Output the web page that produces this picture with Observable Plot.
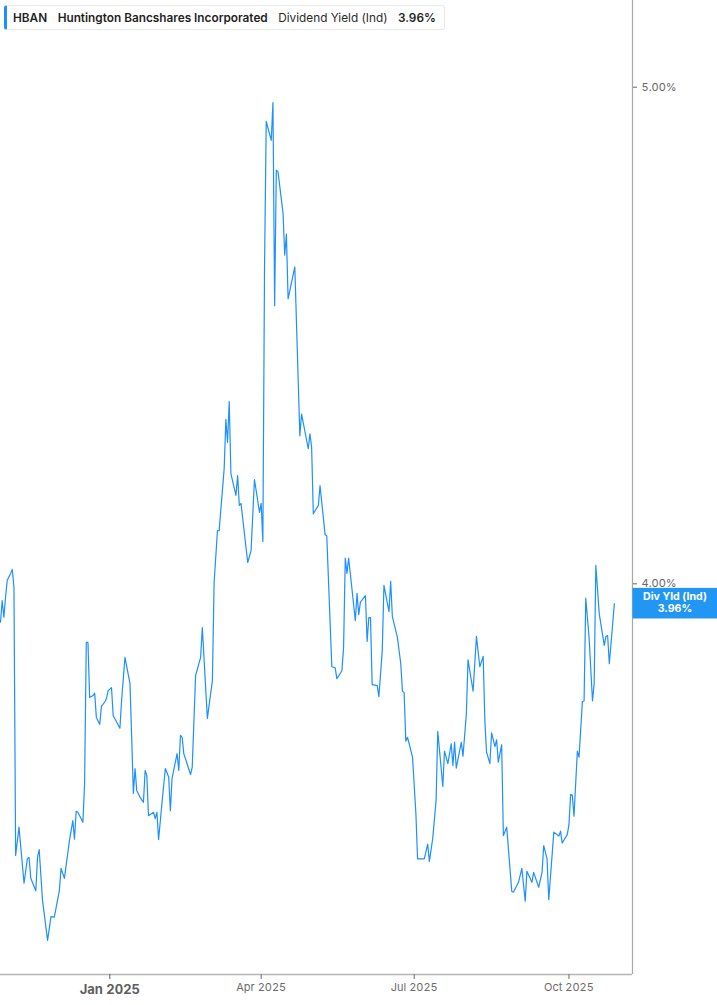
<!DOCTYPE html>
<html><head><meta charset="utf-8">
<script src="https://cdn.jsdelivr.net/npm/d3@7"></script>
<script src="https://cdn.jsdelivr.net/npm/@observablehq/plot@0.6"></script>
<style>
body{margin:0;background:#fff;font-family:Inter,"Noto Sans",sans-serif;}
#wrap{position:relative;width:717px;height:1005px;overflow:hidden;}
#hdr{position:absolute;left:4px;top:5px;height:25px;width:441px;box-sizing:border-box;border:1px solid #e8e8e8;border-left:3px solid #1e8fff;border-radius:3px;background:#fff;display:flex;align-items:center;font-size:11.8px;font-weight:600;color:#1f1f1f;padding-left:6px;white-space:nowrap;z-index:2}
#hdr span{margin-right:10.5px}
#hdr .n{font-weight:400;color:#2a2a2a}
</style></head>
<body><div id="wrap"><div id="hdr"><span id="sym"></span><span id="nm"></span><span class="n" id="met"></span><span id="val"></span></div></div>
<script>
const symbol = "HBAN";
const company = "Huntington Bancshares Incorporated";
const metric = "Dividend Yield (Ind)";
const labelShort = "Div Yld (Ind)";

const dates = [
"2024-10-28","2024-10-29","2024-10-30","2024-10-31","2024-11-01","2024-11-03","2024-11-04","2024-11-05","2024-11-06","2024-11-08",
"2024-11-11","2024-11-13","2024-11-14","2024-11-15","2024-11-18","2024-11-19","2024-11-20","2024-11-22","2024-11-25","2024-11-27",
"2024-11-29","2024-12-02","2024-12-03","2024-12-05","2024-12-08","2024-12-10","2024-12-11","2024-12-12","2024-12-13","2024-12-16",
"2024-12-17","2024-12-18","2024-12-19","2024-12-20","2024-12-22","2024-12-23","2024-12-24","2024-12-26","2024-12-27","2024-12-29",
"2024-12-30","2024-12-31","2025-01-02","2025-01-03","2025-01-07","2025-01-08","2025-01-10","2025-01-13","2025-01-14","2025-01-15",
"2025-01-16","2025-01-17","2025-01-19","2025-01-21","2025-01-22","2025-01-23","2025-01-24","2025-01-27","2025-01-28","2025-01-29",
"2025-01-30","2025-02-01","2025-02-03","2025-02-05","2025-02-06","2025-02-07","2025-02-10","2025-02-11","2025-02-12","2025-02-13",
"2025-02-14","2025-02-18","2025-02-19","2025-02-21","2025-02-24","2025-02-25","2025-02-28","2025-03-03","2025-03-04","2025-03-06",
"2025-03-07","2025-03-10","2025-03-11","2025-03-12","2025-03-13","2025-03-14","2025-03-17","2025-03-18","2025-03-19","2025-03-20",
"2025-03-24","2025-03-26","2025-03-28","2025-03-31","2025-04-01","2025-04-02","2025-04-03","2025-04-04","2025-04-07","2025-04-08",
"2025-04-09","2025-04-10","2025-04-11","2025-04-14","2025-04-15","2025-04-16","2025-04-17","2025-04-21","2025-04-24","2025-04-25",
"2025-04-29","2025-04-30","2025-05-01","2025-05-02","2025-05-05","2025-05-06","2025-05-09","2025-05-10","2025-05-13","2025-05-15",
"2025-05-16","2025-05-19","2025-05-20","2025-05-21","2025-05-22","2025-05-23","2025-05-27","2025-05-28","2025-05-29","2025-05-30",
"2025-06-02","2025-06-03","2025-06-04","2025-06-05","2025-06-06","2025-06-09","2025-06-10","2025-06-12","2025-06-13","2025-06-16",
"2025-06-17","2025-06-18","2025-06-21","2025-06-23","2025-06-24","2025-06-25","2025-06-26","2025-06-27","2025-06-30","2025-07-02",
"2025-07-03","2025-07-07","2025-07-09","2025-07-10","2025-07-12","2025-07-14","2025-07-15","2025-07-18","2025-07-19","2025-07-21",
"2025-07-23","2025-07-24","2025-07-25","2025-07-26","2025-07-29","2025-07-30","2025-08-01","2025-08-02","2025-08-05","2025-08-07",
"2025-08-09","2025-08-11","2025-08-12","2025-08-13","2025-08-15","2025-08-16","2025-08-18","2025-08-19","2025-08-20","2025-08-22",
"2025-08-23","2025-08-25","2025-08-28","2025-08-29","2025-09-01","2025-09-03","2025-09-05","2025-09-06","2025-09-09","2025-09-10",
"2025-09-13","2025-09-15","2025-09-16","2025-09-18","2025-09-19","2025-09-22","2025-09-25","2025-09-26","2025-09-27","2025-09-30",
"2025-10-01","2025-10-02","2025-10-03","2025-10-04","2025-10-06","2025-10-07","2025-10-09","2025-10-10","2025-10-11","2025-10-13",
"2025-10-15","2025-10-16","2025-10-17","2025-10-19","2025-10-22","2025-10-23","2025-10-24","2025-10-25","2025-10-28"
];

const yields = [
3.923,3.966,3.933,3.973,4.007,4.021,4.029,3.993,3.453,3.510,
3.397,3.447,3.449,3.407,3.382,3.449,3.465,3.362,3.282,3.330,
3.329,3.382,3.427,3.407,3.483,3.523,3.486,3.542,3.540,3.520,
3.598,3.882,3.882,3.771,3.775,3.780,3.731,3.717,3.753,3.762,
3.769,3.785,3.791,3.735,3.709,3.765,3.852,3.799,3.691,3.578,
3.628,3.584,3.570,3.560,3.624,3.614,3.533,3.540,3.527,3.540,
3.485,3.558,3.628,3.611,3.543,3.608,3.658,3.624,3.695,3.691,
3.658,3.616,3.631,3.815,3.852,3.912,3.729,3.805,4.001,4.107,
4.107,4.232,4.331,4.285,4.367,4.222,4.178,4.218,4.158,4.162,
4.043,4.067,4.210,4.144,4.162,4.085,4.639,4.931,4.893,4.969,
4.560,4.833,4.830,4.746,4.662,4.704,4.574,4.638,4.298,4.342,
4.272,4.302,4.275,4.141,4.158,4.198,4.099,4.097,3.833,3.831,
3.809,3.825,3.872,4.052,4.021,4.052,3.926,3.981,3.938,3.963,
3.976,3.884,3.932,3.932,3.797,3.795,3.773,3.866,3.997,3.944,
4.005,3.934,3.892,3.839,3.784,3.781,3.683,3.691,3.651,3.537,
3.446,3.446,3.476,3.441,3.487,3.564,3.703,3.592,3.663,3.638,
3.678,3.634,3.681,3.629,3.681,3.653,3.738,3.847,3.784,3.894,
3.833,3.854,3.725,3.661,3.638,3.700,3.672,3.686,3.641,3.676,
3.493,3.510,3.381,3.379,3.399,3.427,3.361,3.421,3.399,3.419,
3.389,3.419,3.473,3.446,3.364,3.500,3.492,3.502,3.478,3.495,
3.515,3.576,3.574,3.532,3.663,3.651,3.763,3.764,3.971,3.891,
3.764,3.799,4.037,3.940,3.876,3.894,3.896,3.839,3.960
];

const yTicks = [4, 5];
const xTickDates = ["2025-01-01", "2025-04-01", "2025-07-01", "2025-10-01"];
const xTickLabels = ["Jan 2025", "Apr 2025", "Jul 2025", "Oct 2025"];
const xDomain = ["2024-10-28T00:00Z", "2025-11-07T19:00Z"];
const yDomain = [3.2133, 5.1746];

const data = dates.map((d, i) => ({date: new Date(d + "T00:00:00Z"), value: yields[i]}));
const last = yields[yields.length - 1];
const fmt = v => v.toFixed(2) + "%";

document.getElementById("sym").textContent = symbol;
document.getElementById("nm").textContent = company;
document.getElementById("met").textContent = metric;
document.getElementById("val").textContent = fmt(last);

const tickD = xTickDates.map(d => new Date(d + "T00:00:00Z"));
const labelOf = d => xTickLabels[tickD.findIndex(t => +t === +d)];

const chart = Plot.plot({
  width: 717, height: 1005,
  marginLeft: 0, marginRight: 85, marginTop: 0, marginBottom: 31,
  style: {fontFamily: "Inter, 'Noto Sans', sans-serif", fontSize: "11px", background: "transparent", overflow: "visible"},
  x: {type: "utc", domain: xDomain.map(d => new Date(d)), axis: null},
  y: {domain: yDomain, axis: null},
  marks: [
    Plot.line(data, {x: "date", y: "value", stroke: "#1e8fff", strokeWidth: 1.2}),
    Plot.ruleY([yDomain[0]], {stroke: "#b5b5b5", strokeWidth: 1.6}),
    Plot.ruleX([new Date(xDomain[1])], {stroke: "#a8a8a8", strokeWidth: 1.2}),
    Plot.axisY(yTicks, {anchor: "right", label: null, tickSize: 4, tickPadding: 5, tickFormat: fmt, color: "#666"}),
    Plot.axisX(tickD.slice(1), {anchor: "bottom", label: null, tickSize: 5, tickPadding: 4, tickFormat: labelOf, color: "#6b6b6b", fontSize: 11}),
    Plot.axisX(tickD.slice(0, 1), {anchor: "bottom", label: null, tickSize: 5, tickPadding: 5, tickFormat: labelOf, color: "#5e5e5e", fontSize: 13, fontWeight: "bold"})
  ]
});

document.getElementById("wrap").appendChild(chart);

// last-value label in the right margin, placed with the chart's own scales
const yy = chart.scale("y").apply(last);
const x0 = chart.scale("x").apply(new Date(xDomain[1]));
const g = d3.select(chart).append("g");
g.append("rect").attr("x", x0 + 0.5).attr("y", yy - 15.3).attr("width", 717 - x0).attr("height", 30.6).attr("fill", "#2196f3");
g.append("text").attr("x", x0 + 43).attr("y", yy - 6.2).attr("text-anchor", "middle").attr("dominant-baseline", "middle")
  .attr("fill", "#fff").attr("font-weight", "bold").attr("font-size", 10.6).text(labelShort);
g.append("text").attr("x", x0 + 43).attr("y", yy + 6.2).attr("text-anchor", "middle").attr("dominant-baseline", "middle")
  .attr("fill", "#fff").attr("font-weight", "bold").attr("font-size", 10.6).text(fmt(last));
</script>
</body></html>
